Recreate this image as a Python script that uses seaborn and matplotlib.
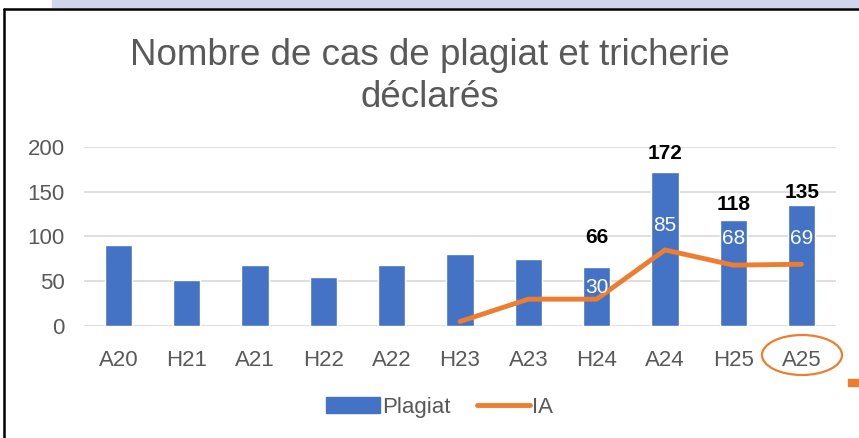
import matplotlib
matplotlib.use('Agg')
import matplotlib.pyplot as plt
import matplotlib.patches as mpatches
import matplotlib.lines as mlines
import numpy as np
import pandas as pd
import seaborn as sns

# data
sessions = ['A20', 'H21', 'A21', 'H22', 'A22', 'H23', 'A23', 'H24', 'A24', 'H25', 'A25']
plagiat = [90, 51, 68, 55, 68, 81, 75, 66, 172, 118, 135]
ia = [np.nan, np.nan, np.nan, np.nan, np.nan, 5, 30, 30, 85, 68, 69]
plagiat_labels = {'H24': 66, 'A24': 172, 'H25': 118, 'A25': 135}
ia_labels = {'H24': 30, 'A24': 85, 'H25': 68, 'A25': 69}

blue = '#4472C4'
orange = '#ED7D31'
grey = '#595959'

sns.set_theme(style='white')
plt.rcParams['font.family'] = ['Liberation Sans', 'DejaVu Sans']

df = pd.DataFrame({'Session': sessions, 'Plagiat': plagiat, 'IA': ia})
df['pos'] = np.arange(len(df))

fig = plt.figure(figsize=(8.59, 4.38), dpi=100)
ax = fig.add_axes([0.098, 0.2557, 0.875, 0.4087])

sns.barplot(data=df, x='Session', y='Plagiat', color=blue, width=0.4,
            saturation=1, ax=ax, zorder=2)
ia_df = df.dropna(subset=['IA'])
sns.lineplot(data=ia_df, x='pos', y='IA', color=orange, linewidth=3.5,
             ax=ax, zorder=3, solid_capstyle='round')

ax.set_xlim(-0.5, 10.5)
ax.set_ylim(0, 200)
ax.set_yticks([0, 50, 100, 150, 200])
ax.yaxis.grid(True, color='#D9D9D9', linewidth=1.2, zorder=0)
ax.set_axisbelow(True)
for s in ax.spines.values():
    s.set_visible(False)
ax.set_xlabel('')
ax.set_ylabel('')
ax.tick_params(axis='both', length=0, labelsize=16, colors=grey)
ax.tick_params(axis='x', pad=17)
ax.tick_params(axis='y', pad=14)

# black labels above bars
top_off = {'H24': 29, 'A24': 19, 'H25': 16, 'A25': 13}
for name, val in plagiat_labels.items():
    i = sessions.index(name)
    ax.annotate(str(val), (i, plagiat[i]), xytext=(0, top_off[name]),
                textcoords='offset pixels', ha='center', va='center',
                fontsize=15, fontweight='bold', color='black')

# white labels for IA
ia_off = {'H24': 12, 'A24': 24, 'H25': 27, 'A25': 26}
for name, val in ia_labels.items():
    i = sessions.index(name)
    ax.annotate(str(val), (i, ia[i]), xytext=(0, ia_off[name]),
                textcoords='offset pixels', ha='center', va='center',
                fontsize=15, color='white', zorder=4)

fig.text(0.5, 0.825, 'Nombre de cas de plagiat et tricherie\ndéclarés',
         ha='center', va='center', fontsize=26.5, color=grey, linespacing=1.28)

handles = [mpatches.Patch(color=blue, label='Plagiat'),
           mlines.Line2D([], [], color=orange, linewidth=3.5,
                         solid_capstyle='round', label='IA')]
fig.legend(handles=handles, loc='center', bbox_to_anchor=(0.512, 0.07), ncol=2,
           frameon=False, fontsize=16, labelcolor=grey, handlelength=2.4,
           handletextpad=0.1, columnspacing=1.2, handleheight=0.75)

# circle around the last session label
fig.patches.append(mpatches.Ellipse((802 / 859, 1 - 355 / 438), 80 / 859, 40 / 438,
                                    transform=fig.transFigure, fill=False,
                                    edgecolor=orange, linewidth=1.6))

# slide decorations
fig.patches.append(mpatches.Rectangle((52 / 859, 1 - 7 / 438), 1, 7 / 438,
                                      transform=fig.transFigure, color='#CFD5EA'))
fig.lines.append(mlines.Line2D([4 / 859, 1], [1 - 8.5 / 438, 1 - 8.5 / 438],
                               transform=fig.transFigure, color='black', linewidth=1.8))
fig.lines.append(mlines.Line2D([4 / 859, 4 / 859], [0, 1 - 8.5 / 438],
                               transform=fig.transFigure, color='black', linewidth=1.8))
fig.patches.append(mpatches.Rectangle((848 / 859, 1 - 386 / 438), 11 / 859, 7 / 438,
                                      transform=fig.transFigure, color=orange))

fig.savefig('out.png', dpi=100)
